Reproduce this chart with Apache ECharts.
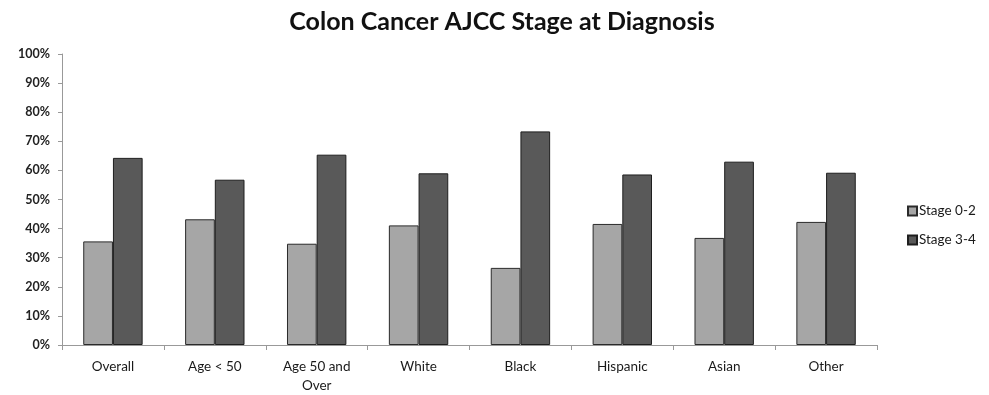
<!DOCTYPE html>
<html>
<head>
<meta charset="utf-8">
<script src="https://cdn.jsdelivr.net/npm/echarts@6/dist/echarts.min.js"></script>
<style>
  html, body { margin: 0; padding: 0; background: #fff; }
  #chart { width: 989px; height: 395px; }
</style>
</head>
<body>
<div id="chart"></div>
<script>
// Colon cancer AJCC stage at diagnosis, share of cases by group
const categories = ['Overall', 'Age < 50', 'Age 50 and\nOver', 'White', 'Black', 'Hispanic', 'Asian', 'Other'];
const seriesNames = ['Stage 0-2', 'Stage 3-4'];
const stageEarly = [35.6, 43.2, 34.8, 41.1, 26.5, 41.6, 36.8, 42.3];
const stageLate = [64.3, 56.8, 65.4, 59.0, 73.4, 58.6, 63.0, 59.2];
const yTicks = [0, 10, 20, 30, 40, 50, 60, 70, 80, 90, 100];

const FONT = 'Lato, "Open Sans", sans-serif';
const chart = echarts.init(document.getElementById('chart'), null, { renderer: 'canvas' });

chart.setOption({
  animation: false,
  backgroundColor: '#ffffff',
  title: {
    text: 'Colon Cancer AJCC Stage at Diagnosis',
    left: 497,
    top: 4,
    textAlign: 'center',
    textStyle: { fontFamily: FONT, fontWeight: 'bold', fontSize: 25, color: '#111' }
  },
  legend: {
    orient: 'vertical',
    left: 902,
    top: 199,
    itemWidth: 9,
    itemHeight: 9,
    itemGap: 15,
    icon: 'rect',
    textStyle: { fontFamily: FONT, fontSize: 13.5, color: '#1a1a1a', padding: [0, 0, 0, -3] },
    data: seriesNames
  },
  grid: { left: 62, right: 112, top: 54, bottom: 48, containLabel: false },
  xAxis: {
    type: 'category',
    data: categories,
    axisLine: { lineStyle: { color: '#999', width: 1 } },
    axisTick: { show: true, length: 5, lineStyle: { color: '#999' } },
    axisLabel: { fontFamily: FONT, fontSize: 13.5, color: '#1a1a1a', margin: 12, lineHeight: 19, interval: 0 }
  },
  yAxis: {
    type: 'value',
    min: yTicks[0],
    max: yTicks[yTicks.length - 1],
    interval: 10,
    axisLine: { show: true, lineStyle: { color: '#999', width: 1 } },
    axisTick: { show: true, length: 4, lineStyle: { color: '#999' } },
    splitLine: { show: false },
    axisLabel: {
      fontFamily: FONT, fontSize: 12.5, fontWeight: 'bold', color: '#222', margin: 12,
      formatter: v => v + '%'
    }
  },
  series: [
    {
      name: seriesNames[0],
      type: 'bar',
      data: stageEarly,
      barGap: '0%',
      barCategoryGap: '41.7%',
      itemStyle: { color: '#a6a6a6', borderColor: '#2a2a2a', borderWidth: 1 }
    },
    {
      name: seriesNames[1],
      type: 'bar',
      data: stageLate,
      barGap: '0%',
      barCategoryGap: '41.7%',
      itemStyle: { color: '#595959', borderColor: '#1e1e1e', borderWidth: 1 }
    }
  ]
});
</script>
</body>
</html>
